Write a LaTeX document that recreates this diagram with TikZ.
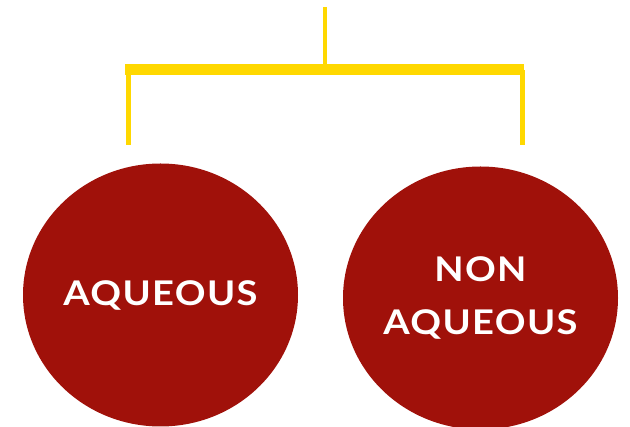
\documentclass[tikz,border=0pt]{standalone}
\usepackage{fontspec}
\setmainfont{Lato}
\newfontfamily\labelfont[FakeStretch=1.12,LetterSpace=4]{Lato}
\usepackage{xcolor}
\definecolor{solventred}{HTML}{A0110A}
\definecolor{branchgold}{HTML}{FFD800}
\usetikzlibrary{shapes.geometric}

\begin{document}
\begin{tikzpicture}[x=1pt,y=-1pt,
    solvent/.style={ellipse,fill=solventred,text=white,minimum width=275pt,
      minimum height=263pt,inner sep=0pt,align=center,
      font=\labelfont\fontsize{34}{53}\selectfont\bfseries},
    branch/.style={branchgold,line width=5pt}]
  \useasboundingbox (0,0) rectangle (630,427);

  \node[solvent] (aq) at (160.5,295) {AQUEOUS};
  \node[solvent] (naq) at (480.5,298) {NON\\AQUEOUS};

  % bracket over the two circles
  \coordinate (top) at (325,7);
  \coordinate (split) at (325,70);
  \coordinate (lcorner) at (128,70);
  \coordinate (rcorner) at (522,70);
  \coordinate (lend) at (128,145);
  \coordinate (rend) at (522,145);

  \draw[branch,line width=4pt] (top) -- (split);
  \draw[branch] (lcorner) -- (lend);
  \draw[branch] (rcorner) -- (rend);
  \draw[branchgold,line width=11pt] ([xshift=-3pt]lcorner) -- ([xshift=2pt]rcorner);
\end{tikzpicture}
\end{document}
